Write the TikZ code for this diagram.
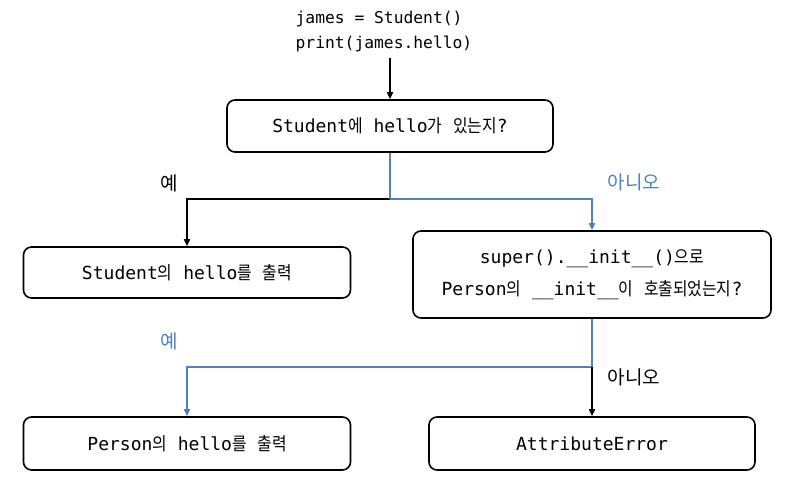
\documentclass[tikz,border=0pt]{standalone}
\usepackage{fontspec}
\setmonofont{DejaVu Sans Mono}
\newfontfamily\kr[FakeStretch=0.88]{Noto Sans CJK KR}
\newfontfamily\krlab{Noto Sans CJK KR}
\usetikzlibrary{arrows.meta}
\definecolor{flowblue}{HTML}{4F81BD}
\newcommand{\K}[1]{{\kr #1}}
\begin{document}
\begin{tikzpicture}[x=1pt,y=-1pt,
  box/.style={draw=black,line width=1.6pt,rounded corners=8pt,align=center,
    font=\ttfamily\fontsize{18}{32}\selectfont,inner sep=0pt},
  blk/.style={draw=black,line width=1.6pt},
  blu/.style={draw=flowblue,line width=1.6pt},
  tip/.style={-{Triangle[length=7pt,width=6pt]}},
  lab/.style={font=\krlab\fontsize{19}{22}\selectfont}
]
\useasboundingbox (0,0) rectangle (795,484);
\node[font=\ttfamily\fontsize{16.3}{25}\selectfont,align=left,inner sep=0pt] (code) at (384,32)
  {james = Student()\\print(james.hello)};
\coordinate (c0) at (390,58);
\node[box,minimum width=326pt,minimum height=52pt] (b1) at (390,126)
  {Student\K{에} hello\K{가} \K{있는지}?};
\node[box,minimum width=327pt,minimum height=51pt] (b2) at (187,272.5)
  {Student\K{의} hello\K{를} \K{출력}};
\node[box,minimum width=358pt,minimum height=87pt] (b3) at (592,274.5)
  {super().\_\_init\_\_()\K{으로}\\Person\K{의} \_\_init\_\_\K{이} \K{호출되었는지}?};
\node[box,minimum width=327pt,minimum height=53pt] (b4) at (187,443.5)
  {Person\K{의} hello\K{를} \K{출력}};
\node[box,minimum width=326pt,minimum height=53pt] (b5) at (592,443.5)
  {AttributeError};
\coordinate (j1) at (390,199);
\coordinate (j2) at (592,367);
\draw[blk,tip] (c0) -- (b1.north);
\draw[blk,tip] (j1) -| (b2.north);
\draw[blu,tip] (j1) -| (b3.north);
\draw[blu] (b1.south) -- (j1);
\draw[blu,tip] (j2) -| (b4.north);
\draw[blk,tip] (j2) -- (b5.north);
\draw[blu] (b3.south) -- (j2);
\node[lab,text=black] (l1) at (169,183) {예};
\node[lab,text=flowblue] (l2) at (634,182) {아니오};
\node[lab,text=flowblue] (l3) at (169,341) {예};
\node[lab,text=black] (l4) at (634,377) {아니오};
\end{tikzpicture}
\end{document}
